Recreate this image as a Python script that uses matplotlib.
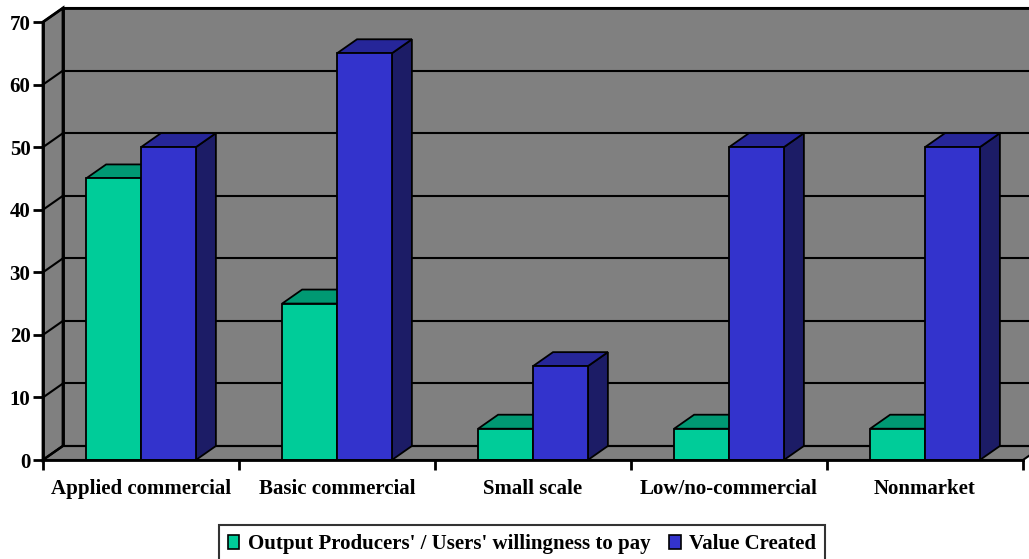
import matplotlib.pyplot as plt
from matplotlib.patches import Polygon, Rectangle, Patch

categories = ["Applied commercial", "Basic commercial", "Small scale",
              "Low/no-commercial", "Nonmarket"]
willingness = [45, 25, 5, 5, 5]
value_created = [50, 65, 15, 50, 50]
series_names = ["Output Producers' / Users' willingness to pay", "Value Created"]
y_ticks = [0, 10, 20, 30, 40, 50, 60, 70]

# face colours: front, top, side
green = ("#00CC99", "#009973", "#006B50")
blue = ("#3333CC", "#262699", "#1C1C66")
wall = "#808080"

W, H = 1029, 559
fig = plt.figure(figsize=(W / 100, H / 100), dpi=100)
ax = fig.add_axes([43 / W, 1 - 460 / H, 980 / W, 438 / H])
ax.set_xlim(0, len(categories))
ax.set_ylim(0, 70)
ax.patch.set_visible(False)

# depth of the fake 3d box, in data units (20 px right, 14 px up)
DX = 20 / 196
DY = 14 / (438 / 70)
BW = 0.28  # bar width
n = len(categories)

# walls
ax.add_patch(Rectangle((DX, DY), n, 70, facecolor=wall, edgecolor="black",
                       lw=2, clip_on=False, zorder=0))
ax.add_patch(Polygon([(0, 0), (DX, DY), (DX, 70 + DY), (0, 70)], facecolor=wall,
                     edgecolor="black", lw=2, clip_on=False, zorder=0))
ax.add_patch(Polygon([(0, 0), (n, 0), (n + DX, DY), (DX, DY)], facecolor=wall,
                     edgecolor="black", lw=1.5, clip_on=False, zorder=0))
for t in y_ticks:
    ax.plot([DX, n + DX], [t + DY, t + DY], color="black", lw=1.5,
            clip_on=False, zorder=1)
    ax.plot([0, DX], [t, t + DY], color="black", lw=1.5, clip_on=False, zorder=1)


def draw_bar(x0, h, cols):
    kw = dict(edgecolor="black", lw=1.3, clip_on=False, zorder=3)
    ax.add_patch(Polygon([(x0 + BW, 0), (x0 + BW + DX, DY), (x0 + BW + DX, h + DY),
                          (x0 + BW, h)], facecolor=cols[2], **kw))
    ax.add_patch(Polygon([(x0, h), (x0 + BW, h), (x0 + BW + DX, h + DY),
                          (x0 + DX, h + DY)], facecolor=cols[1], **kw))
    ax.add_patch(Rectangle((x0, 0), BW, h, facecolor=cols[0], **kw))


for i in range(n):
    c = i + 0.5
    draw_bar(c - BW, willingness[i], green)
    draw_bar(c, value_created[i], blue)

# axes
for s in ["top", "right"]:
    ax.spines[s].set_visible(False)
for s in ["left", "bottom"]:
    ax.spines[s].set_linewidth(2)
    ax.spines[s].set_zorder(4)

font = dict(family="Liberation Serif", weight="bold", size=15)
ax.set_yticks(y_ticks)
ax.set_yticklabels([str(t) for t in y_ticks], fontdict=font)
ax.set_xticks(range(n + 1))
ax.set_xticklabels([])
ax.set_xticks([i + 0.5 for i in range(n)], minor=True)
ax.set_xticklabels(categories, minor=True, fontdict=font)
ax.tick_params(axis="y", direction="out", length=7, width=2, pad=2)
ax.tick_params(axis="x", which="major", direction="out", length=7, width=2)
ax.tick_params(axis="x", which="minor", length=0, pad=14)

handles = [Patch(facecolor=green[0], edgecolor="black", lw=1.2),
           Patch(facecolor=blue[0], edgecolor="black", lw=1.2)]
leg = fig.legend(handles, series_names, loc="center", bbox_to_anchor=(522 / W, 1 - 544 / H),
                 ncol=2, prop=dict(family="Liberation Serif", weight="bold", size=15),
                 frameon=True, fancybox=False, handlelength=0.55, handleheight=0.65,
                 handletextpad=0.4, columnspacing=0.9, borderpad=0.45, borderaxespad=0)
leg.get_frame().set_edgecolor("black")
leg.get_frame().set_linewidth(1.5)

fig.savefig("out.png", dpi=100)
